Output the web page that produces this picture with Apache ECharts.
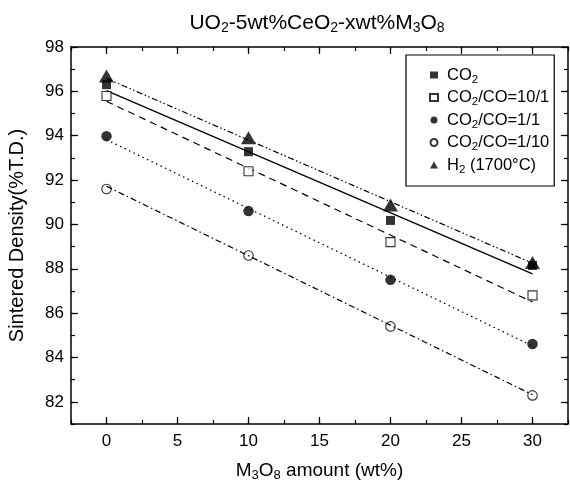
<!DOCTYPE html>
<html>
<head>
<meta charset="utf-8">
<script src="https://cdn.jsdelivr.net/npm/echarts@6/dist/echarts.min.js"></script>
<style>
html,body{margin:0;padding:0;background:#fff;}
#c{width:570px;height:484px;}
</style>
</head>
<body>
<div id="c"></div>
<script>
// ---- data ----
const xValues = [0, 10, 20, 30];
const seriesNames = ['CO2', 'CO2/CO=10/1', 'CO2/CO=1/1', 'CO2/CO=1/10', 'H2 (1700°C)'];
const co2 = [96.30, 93.28, 90.18, 88.15];
const co2co10_1 = [95.79, 92.40, 89.20, 86.80];
const co2co1_1 = [93.98, 90.60, 87.50, 84.61];
const co2co1_10 = [91.60, 88.60, 85.40, 82.29];
const h2 = [96.69, 93.91, 90.88, 88.28];
// linear fit lines (end points read at x = 0 and x = 30)
const fitX = [0, 30];
const fitCO2 = [96.03, 87.77];
const fitCO2CO10_1 = [95.55, 86.50];
const fitCO2CO1_1 = [93.82, 84.52];
const fitCO2CO1_10 = [91.72, 82.32];
const fitH2 = [96.58, 88.25];
// ticks
const xMajorTicks = [0, 5, 10, 15, 20, 25, 30];
const yMajorTicks = [82, 84, 86, 88, 90, 92, 94, 96, 98];

const FONT = 'Liberation Sans, Arial, sans-serif';
const pts = arr => xValues.map((x, i) => [x, arr[i]]);
const fit = arr => fitX.map((x, i) => [x, arr[i]]);
const sub = s => s.replace(/(CO|H|O|M)([2-8])/g, '$1{s|$2}');

const xBase = {type: 'value', min: -2.5, max: 32.5, interval: 2.5, splitLine: {show: false}};
const yBase = {type: 'value', min: 81, max: 98, interval: 1, splitLine: {show: false}};
const lineStyleAx = {color: '#000', width: 1.5};
const tickStyle = {color: '#000', width: 1.2};

const chart = echarts.init(document.getElementById('c'), null, {renderer: 'canvas'});
chart.setOption({
  animation: false,
  backgroundColor: '#fff',
  textStyle: {fontFamily: FONT, color: '#000'},
  title: {
    text: 'UO{s|2}-5wt%CeO{s|2}-xwt%M{s|3}O{s|8}',
    left: 312, top: 6, textAlign: 'center',
    textStyle: {fontFamily: FONT, fontSize: 21, fontWeight: 'normal', color: '#000',
      rich: {s: {fontFamily: FONT, fontSize: 14, color: '#000', padding: [10, 0, 0, 0]}}}
  },
  grid: {left: 71, right: 2, top: 47, bottom: 60, containLabel: false, outerBoundsMode: 'none'},
  legend: {
    orient: 'vertical', left: 406, top: 55,
    padding: [9, 5, 10, 23],
    itemGap: 0.5, itemWidth: 8, itemHeight: 7,
    borderColor: '#000', borderWidth: 1.2,
    data: seriesNames,
    formatter: name => '{g|}' + sub(name),
    textStyle: {fontFamily: FONT, fontSize: 16.5, color: '#000', lineHeight: 22,
      rich: {
        g: {width: 4, lineHeight: 22},
        s: {fontFamily: FONT, fontSize: 11.5, color: '#000', lineHeight: 22, padding: [9, 0, 0, 0]}
      }}
  },
  xAxis: [
    Object.assign({}, xBase, {
      position: 'bottom',
      axisLine: {show: true, onZero: false, lineStyle: lineStyleAx},
      axisTick: {show: true, inside: true, length: 4, lineStyle: tickStyle},
      axisLabel: {customValues: xMajorTicks, margin: 9, fontFamily: FONT, fontSize: 17, color: '#000'},
      name: 'M{s|3}O{s|8} amount (wt%)', nameLocation: 'middle', nameGap: 35,
      nameTextStyle: {fontFamily: FONT, fontSize: 19, color: '#000',
        rich: {s: {fontFamily: FONT, fontSize: 13, color: '#000', padding: [10, 0, 0, 0]}}}
    }),
    Object.assign({}, xBase, {
      position: 'bottom', axisLine: {show: false, onZero: false},
      axisTick: {show: true, inside: true, length: 7, customValues: xMajorTicks, lineStyle: tickStyle},
      axisLabel: {show: false}
    }),
    Object.assign({}, xBase, {
      position: 'top',
      axisLine: {show: true, onZero: false, lineStyle: lineStyleAx},
      axisTick: {show: true, inside: true, length: 4, lineStyle: tickStyle},
      axisLabel: {show: false}
    }),
    Object.assign({}, xBase, {
      position: 'top', axisLine: {show: false, onZero: false},
      axisTick: {show: true, inside: true, length: 7, customValues: xMajorTicks, lineStyle: tickStyle},
      axisLabel: {show: false}
    })
  ],
  yAxis: [
    Object.assign({}, yBase, {
      position: 'left',
      axisLine: {show: true, onZero: false, lineStyle: lineStyleAx},
      axisTick: {show: true, inside: true, length: 4, lineStyle: tickStyle},
      axisLabel: {customValues: yMajorTicks, margin: 7, fontFamily: FONT, fontSize: 17, color: '#000'},
      name: 'Sintered Density(%T.D.)', nameLocation: 'middle', nameGap: 44, nameRotate: 90,
      nameTextStyle: {fontFamily: FONT, fontSize: 20, color: '#000'}
    }),
    Object.assign({}, yBase, {
      position: 'left', axisLine: {show: false, onZero: false},
      axisTick: {show: true, inside: true, length: 7, customValues: yMajorTicks, lineStyle: tickStyle},
      axisLabel: {show: false}
    }),
    Object.assign({}, yBase, {
      position: 'right',
      axisLine: {show: true, onZero: false, lineStyle: lineStyleAx},
      axisTick: {show: true, inside: true, length: 4, lineStyle: tickStyle},
      axisLabel: {show: false}
    }),
    Object.assign({}, yBase, {
      position: 'right', axisLine: {show: false, onZero: false},
      axisTick: {show: true, inside: true, length: 7, customValues: yMajorTicks, lineStyle: tickStyle},
      axisLabel: {show: false}
    })
  ],
  series: [
    // fit lines
    {name: 'fit1', type: 'line', data: fit(fitCO2), symbol: 'none', silent: true, z: 2,
      lineStyle: {color: '#000', width: 1.3, type: 'solid'}},
    {name: 'fit2', type: 'line', data: fit(fitCO2CO10_1), symbol: 'none', silent: true, z: 2,
      lineStyle: {color: '#000', width: 1.2, type: [7, 5]}},
    {name: 'fit3', type: 'line', data: fit(fitCO2CO1_1), symbol: 'none', silent: true, z: 2,
      lineStyle: {color: '#000', width: 1.3, type: [1.5, 3.5]}},
    {name: 'fit4', type: 'line', data: fit(fitCO2CO1_10), symbol: 'none', silent: true, z: 2,
      lineStyle: {color: '#000', width: 1.2, type: [6, 3, 1.5, 3]}},
    {name: 'fit5', type: 'line', data: fit(fitH2), symbol: 'none', silent: true, z: 2,
      lineStyle: {color: '#000', width: 1.2, type: [6, 2.5, 1.5, 2.5, 1.5, 2.5]}},
    // data points
    {name: seriesNames[0], type: 'scatter', data: pts(co2), symbol: 'rect', symbolSize: 9, z: 3,
      itemStyle: {color: '#000'}},
    {name: seriesNames[1], type: 'scatter', data: pts(co2co10_1), symbol: 'rect', symbolSize: 9, z: 3,
      itemStyle: {color: '#fff', borderColor: '#000', borderWidth: 1.1}},
    {name: seriesNames[2], type: 'scatter', data: pts(co2co1_1), symbol: 'circle', symbolSize: 10.5, z: 3,
      itemStyle: {color: '#000'}},
    {name: seriesNames[3], type: 'scatter', data: pts(co2co1_10), symbol: 'circle', symbolSize: 9.5, z: 3,
      itemStyle: {color: 'rgba(255,255,255,0)', borderColor: '#000', borderWidth: 1.1}},
    {name: seriesNames[4], type: 'scatter', data: pts(h2), symbol: 'triangle', symbolSize: [15, 13], z: 4,
      itemStyle: {color: '#000'}}
  ]
});
</script>
</body>
</html>
